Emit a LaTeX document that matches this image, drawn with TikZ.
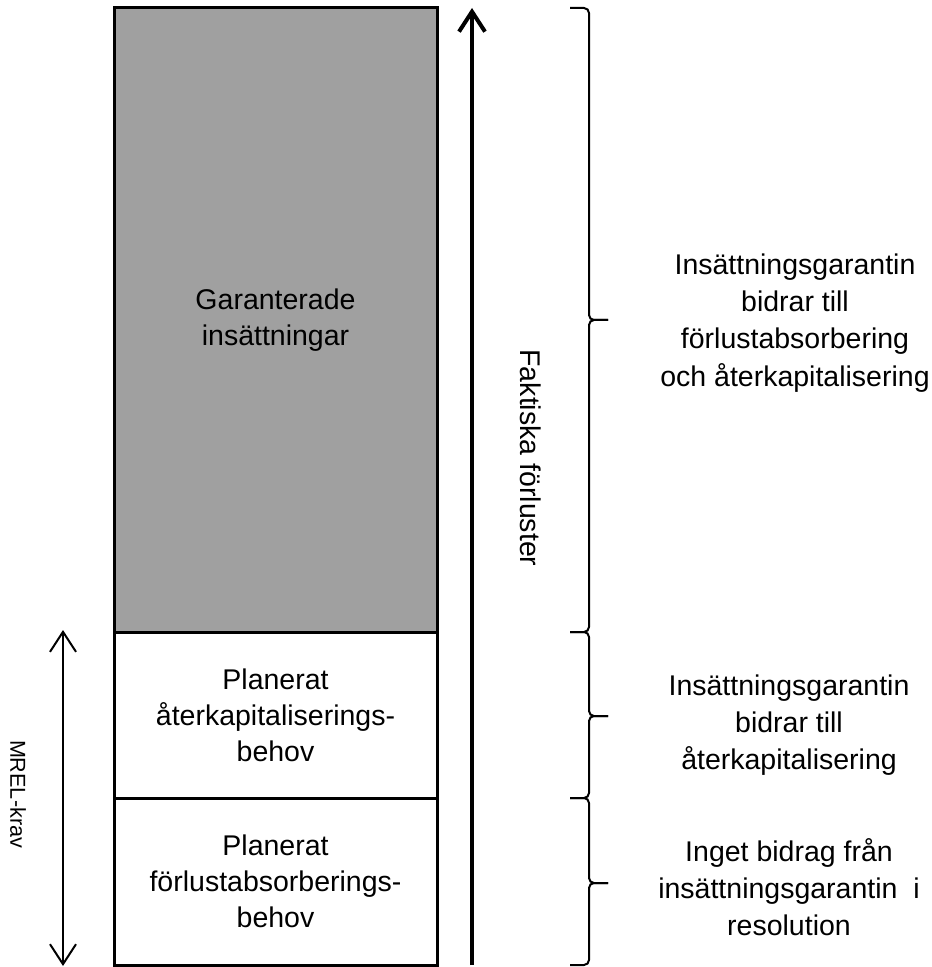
\documentclass[tikz,border=0pt]{standalone}
\usepackage{fontspec}
\setmainfont{Liberation Sans}
\usetikzlibrary{positioning,arrows.meta}
\definecolor{barfill}{RGB}{160,160,160}

\begin{document}
\begin{tikzpicture}[
    x=0.5pt, y=-0.5pt,
    layer/.style={rectangle, draw=black, line width=1.5pt, outer sep=0pt, inner sep=0pt, minimum width=161.5pt, text width=150pt, align=center, font=\fontsize{14.25}{18}\selectfont},
    note/.style={align=center, inner sep=0pt, font=\fontsize{14.25}{18.6}\selectfont},
    arrow/.style={-{Straight Barb[length=10pt,width=13pt]}},
    twoway/.style={{Straight Barb[length=10pt,width=13pt]}-{Straight Barb[length=10pt,width=13pt]}},
    bracket/.style={line width=1pt, rounded corners=2.5pt}
]
\useasboundingbox (0,0) rectangle (931,967);
% Stacked column
\node[layer, fill=barfill, minimum height=312pt, anchor=north] (garant) at (275.5,8) {Garanterade\\insättningar};
\node[layer, minimum height=83pt, below=0pt of garant] (recap) {Planerat\\återkapitaliserings-\\behov};
\node[layer, minimum height=83.5pt, below=0pt of recap] (absorb) {Planerat\\förlustabsorberings-\\behov};
% Actual losses arrow
\coordinate (loss-start) at (472,965);
\coordinate (loss-end) at (472,8);
\draw[arrow, line width=2pt] (loss-start) -- (loss-end);
\node[note, rotate=-90] (loss-label) at (531,458) {Faktiska förluster};
% MREL arrow
\coordinate (mrel-top) at (63,630);
\coordinate (mrel-bottom) at (63,966);
\draw[twoway, line width=1pt] (mrel-top) -- (mrel-bottom);
\node[rotate=-90, inner sep=0pt, font=\fontsize{10.8}{13}\selectfont] (mrel-label) at (18,794) {MREL-krav};
% Braces
\draw[bracket] (570,8) -| (589,320) -- (608,320);
\draw[bracket] (608,320) -| (589,632) -- (570,632);
\draw[bracket] (570,632) -| (589,716) -- (608,716);
\draw[bracket] (608,716) -| (589,798) -- (570,798);
\draw[bracket] (570,798) -| (589,883) -- (608,883);
\draw[bracket] (608,883) -| (589,965) -- (570,965);
% Brace texts
\node[note] (guarantee-full) at (795,323) {Insättningsgarantin\\bidrar till\\förlustabsorbering\\och återkapitalisering};
\node[note] (guarantee-recap) at (789,725) {Insättningsgarantin\\bidrar till\\återkapitalisering};
\node[note] (guarantee-none) at (789,887) {Inget bidrag från\\insättningsgarantin\ \ i\\resolution};
\end{tikzpicture}
\end{document}
